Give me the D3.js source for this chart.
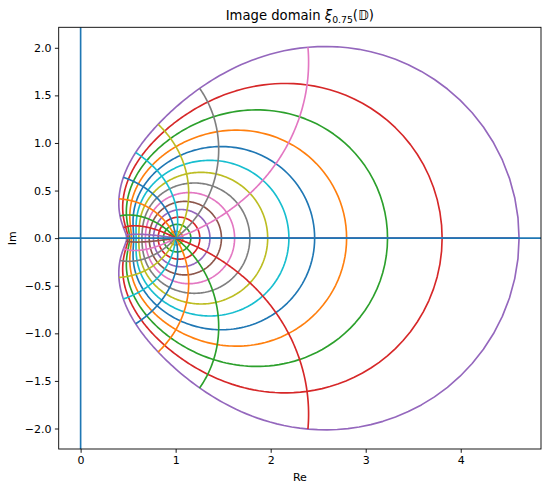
<!DOCTYPE html>
<html>
<head>
<meta charset="utf-8">
<script src="https://cdn.jsdelivr.net/npm/d3@7"></script>
<style>
  body { margin: 0; background: #fff; }
  svg { display: block; }
  text { font-family: "DejaVu Sans", sans-serif; fill: #000; }
</style>
</head>
<body>
<svg id="chart"></svg>
<script>
// map parameter (from the title) and the rational map:
// xi(z) = (1 + 0.25 z - 0.0965 z^3) / (1 - 0.75 z)
var alpha = 0.75;
var numCoef = [1, 0.25, 0, -0.0965];
var denCoef = [1, -alpha];

// circles |z| = r and rays arg z = turn * 2pi that get mapped
var radii = [0, 1/14, 2/14, 3/14, 4/14, 5/14, 6/14, 7/14, 8/14, 9/14, 10/14, 11/14, 12/14, 13/14, 1];
var turns = [0, 1/19, 2/19, 3/19, 4/19, 5/19, 6/19, 7/19, 8/19, 9/19, 10/19,
             11/19, 12/19, 13/19, 14/19, 15/19, 16/19, 17/19, 18/19, 1];

var xTicks = [0, 1, 2, 3, 4];
var yTicks = [-2, -1.5, -1, -0.5, 0, 0.5, 1, 1.5, 2];

var colors = ["#1f77b4", "#ff7f0e", "#2ca02c", "#d62728", "#9467bd",
              "#8c564b", "#e377c2", "#7f7f7f", "#bcbd22", "#17becf"];

var screen = { width: 550, height: 489 };
var box = { left: 58.7, right: 541, top: 27.3, bottom: 449 };

// complex helpers
var horner = function(coef, re, im) {
  var ar = 0, ai = 0;
  for (var i = coef.length - 1; i >= 0; i--) {
    var nr = ar * re - ai * im + coef[i];
    var ni = ar * im + ai * re;
    ar = nr; ai = ni;
  }
  return [ar, ai];
};
var xi = function(re, im) {
  var n = horner(numCoef, re, im);
  var d = horner(denCoef, re, im);
  var m = d[0] * d[0] + d[1] * d[1];
  return [(n[0] * d[0] + n[1] * d[1]) / m, (n[1] * d[0] - n[0] * d[1]) / m];
};

var curves = [];
radii.forEach(function(r) {
  var pts = [];
  for (var j = 0; j <= 400; j++) {
    var t = 2 * Math.PI * j / 400;
    pts.push(xi(r * Math.cos(t), r * Math.sin(t)));
  }
  curves.push(pts);
});
turns.forEach(function(tu) {
  var pts = [];
  var th = 2 * Math.PI * tu;
  for (var j = 0; j <= 200; j++) {
    var s = j / 200;
    pts.push(xi(s * Math.cos(th), s * Math.sin(th)));
  }
  curves.push(pts);
});

var all = d3.merge(curves);
var xMin = Math.min(0, d3.min(all, function(p) { return p[0]; }));
var xMax = Math.max(0, d3.max(all, function(p) { return p[0]; }));
var yMin = Math.min(0, d3.min(all, function(p) { return p[1]; }));
var yMax = Math.max(0, d3.max(all, function(p) { return p[1]; }));
var xPad = 0.05 * (xMax - xMin), yPad = 0.05 * (yMax - yMin);

var xScale = d3.scaleLinear()
               .domain([xMin - xPad, xMax + xPad])
               .range([box.left, box.right]);
var yScale = d3.scaleLinear()
               .domain([yMin - yPad, yMax + yPad])
               .range([box.bottom, box.top]);

var svg = d3.select("#chart")
            .attr("width", screen.width)
            .attr("height", screen.height);

svg.append("defs").append("clipPath").attr("id", "clip")
   .append("rect")
   .attr("x", box.left).attr("y", box.top)
   .attr("width", box.right - box.left).attr("height", box.bottom - box.top);

var plot = svg.append("g").attr("clip-path", "url(#clip)");

var line = d3.line()
             .x(function(p) { return xScale(p[0]); })
             .y(function(p) { return yScale(p[1]); });

plot.selectAll("path.curve")
    .data(curves)
    .enter()
    .append("path")
    .attr("class", "curve")
    .attr("d", line)
    .attr("fill", "none")
    .attr("stroke", function(d, i) { return colors[i % 10]; })
    .attr("stroke-width", 1.65)
    .attr("stroke-linejoin", "round");

// axhline / axvline at 0
plot.append("line")
    .attr("x1", box.left).attr("x2", box.right)
    .attr("y1", yScale(0)).attr("y2", yScale(0))
    .attr("stroke", colors[0]).attr("stroke-width", 1.65);
plot.append("line")
    .attr("x1", xScale(0)).attr("x2", xScale(0))
    .attr("y1", box.top).attr("y2", box.bottom)
    .attr("stroke", colors[0]).attr("stroke-width", 1.65);

// axes
var minus = function(s) { return s.replace("-", "\u2212"); };
var xAxis = d3.axisBottom(xScale)
              .tickValues(xTicks)
              .tickSize(3.8)
              .tickPadding(3.5)
              .tickFormat(function(d) { return minus(d3.format("d")(d)); });
var yAxis = d3.axisLeft(yScale)
              .tickValues(yTicks)
              .tickSize(3.8)
              .tickPadding(3.5)
              .tickFormat(function(d) { return minus(d3.format(".1f")(d)); });

var gx = svg.append("g")
            .attr("transform", "translate(0," + box.bottom + ")")
            .call(xAxis);
var gy = svg.append("g")
            .attr("transform", "translate(" + box.left + ",0)")
            .call(yAxis);
[gx, gy].forEach(function(g) {
  g.select(".domain").remove();
  g.selectAll(".tick line").attr("stroke", "#000").attr("stroke-width", 0.9);
  g.selectAll(".tick text").style("font-family", "'DejaVu Sans', sans-serif")
   .style("font-size", "11px").attr("fill", "#000");
});

svg.append("rect")
   .attr("x", box.left).attr("y", box.top)
   .attr("width", box.right - box.left).attr("height", box.bottom - box.top)
   .attr("fill", "none").attr("stroke", "#000").attr("stroke-width", 0.9);

// labels
svg.append("text")
   .attr("x", (box.left + box.right) / 2).attr("y", 481)
   .attr("text-anchor", "middle").style("font-size", "11px")
   .text("Re");
svg.append("text")
   .attr("transform", "translate(16," + (box.top + box.bottom) / 2 + ") rotate(-90)")
   .attr("text-anchor", "middle").style("font-size", "11px")
   .text("Im");

var title = svg.append("text")
   .attr("x", (box.left + box.right) / 2).attr("y", 20)
   .attr("text-anchor", "middle").style("font-size", "13.2px");
title.append("tspan").text("Image domain ");
title.append("tspan").style("font-style", "italic").text("\u03BE");
title.append("tspan").attr("dy", 3).style("font-size", "9.3px").text("0.75");
title.append("tspan").attr("dy", -3).text("(\uD835\uDD3B)");
</script>
</body>
</html>
